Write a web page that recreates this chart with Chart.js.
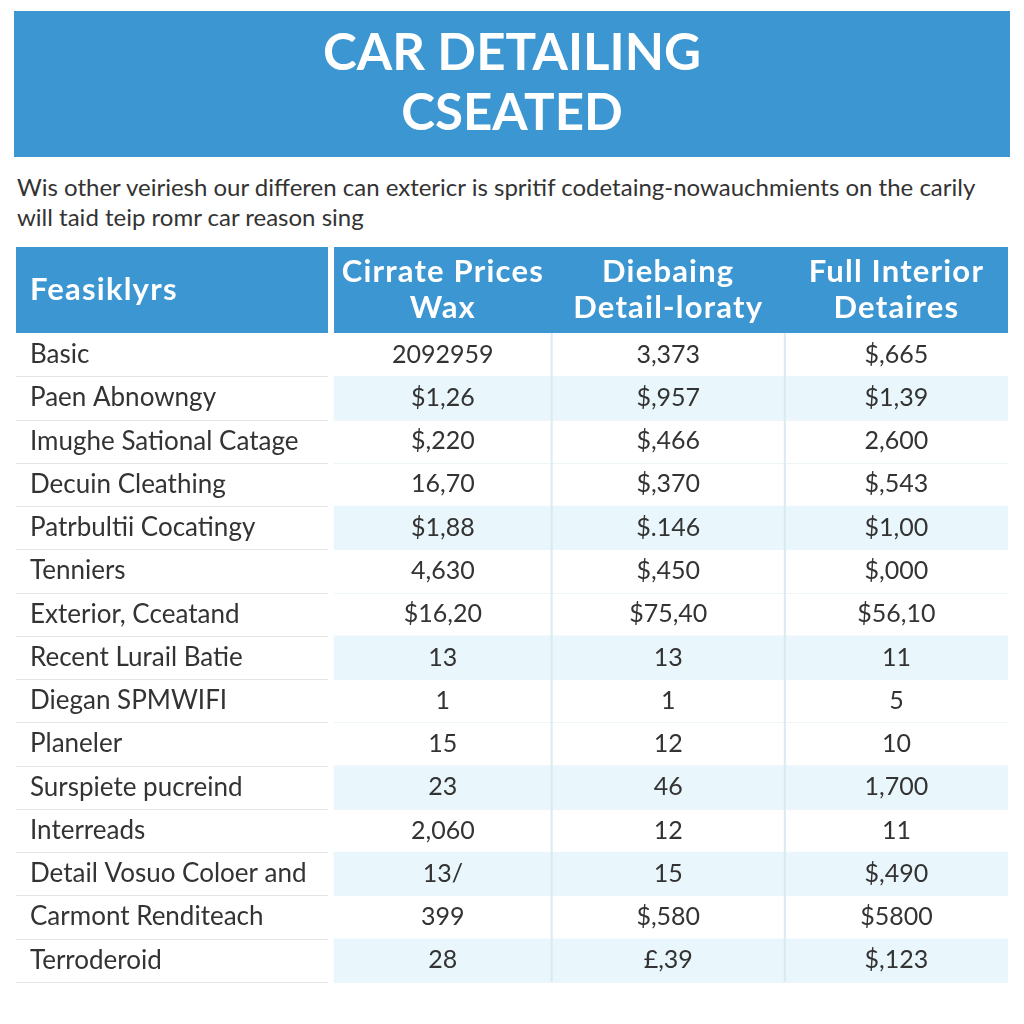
<!DOCTYPE html>
<html lang="en">
<head>
<meta charset="UTF-8">
<title>Car Detailing Cseated</title>
<script src="https://cdn.jsdelivr.net/npm/chart.js@4.4.0/dist/chart.umd.min.js"></script>
<style>
    * { margin: 0; padding: 0; box-sizing: border-box; }
    body {
        width: 1024px;
        height: 1024px;
        background: #fff;
        position: relative;
        overflow: hidden;
        font-family: Lato, "Open Sans", sans-serif;
    }
    .banner {
        position: absolute;
        left: 14px;
        top: 11px;
        width: 996px;
        height: 146px;
        background: #3b96d1;
        color: #fff;
        text-align: center;
        font-weight: bold;
        font-size: 51px;
        line-height: 60px;
        padding-top: 10px;
    }
    .intro {
        position: absolute;
        left: 17px;
        top: 172px;
        width: 1000px;
        font-size: 24px;
        line-height: 30px;
        color: #333;
    }
    #table {
        position: absolute;
        left: 0;
        top: 240px;
    }
</style>
</head>
<body>
    <div class="banner">CAR DETAILING<br>CSEATED</div>
    <div class="intro">Wis other veiriesh our differen can extericr is spritif codetaing-nowauchmients on the carily<br>will taid teip romr car reason sing</div>
    <canvas id="table" width="1024" height="760"></canvas>

<script>
    // table contents
    const features = ['Basic', 'Paen Abnowngy', 'Imughe Sational Catage', 'Decuin Cleathing',
        'Patrbultii Cocatingy', 'Tenniers', 'Exterior, Cceatand', 'Recent Lurail Batie',
        'Diegan SPMWIFI', 'Planeler', 'Surspiete pucreind', 'Interreads',
        'Detail Vosuo Coloer and', 'Carmont Renditeach', 'Terroderoid'];
    const firstHeader = 'Feasiklyrs';
    const columnHeaders = [['Cirrate Prices', 'Wax'], ['Diebaing', 'Detail-loraty'], ['Full Interior', 'Detaires']];
    const cirratePrices = ['2092959', '$1,26', '$,220', '16,70', '$1,88', '4,630', '$16,20', '13', '1', '15', '23', '2,060', '13/', '399', '28'];
    const diebaingDetail = ['3,373', '$,957', '$,466', '$,370', '$.146', '$,450', '$75,40', '13', '1', '12', '46', '12', '15', '$,580', '£,39'];
    const fullInterior = ['$,665', '$1,39', '2,600', '$,543', '$1,00', '$,000', '$56,10', '11', '5', '10', '1,700', '11', '$,490', '$5800', '$,123'];
    const columns = [cirratePrices, diebaingDetail, fullInterior];

    // layout (x in percent of table width)
    const FIRST_END = 31.45;
    const DATA_START = 32.06;
    const COL_EDGES = [DATA_START, 54.0, 77.5, 100];
    const HEADER_H = 86;
    const SHADED_ROWS = [1, 4, 7, 10, 12, 14];
    const BLUE = '#3b96d1';
    const SHADE = '#e9f6fb';
    const TEXT = '#333333';

    const tablePlugin = {
        id: 'tableCells',
        beforeDatasetsDraw(chart) {
            const { ctx, chartArea: a, scales: { x, y } } = chart;
            const rowH = y.getPixelForValue(1) - y.getPixelForValue(0);
            const top = a.top - HEADER_H;
            ctx.save();
            // header cells
            ctx.fillStyle = BLUE;
            ctx.fillRect(x.getPixelForValue(0), top, x.getPixelForValue(FIRST_END) - x.getPixelForValue(0), HEADER_H);
            ctx.fillRect(x.getPixelForValue(DATA_START), top, x.getPixelForValue(100) - x.getPixelForValue(DATA_START), HEADER_H);
            ctx.fillStyle = '#fff';
            ctx.font = 'bold 31px Lato';
            ctx.letterSpacing = '1.2px';
            ctx.textBaseline = 'middle';
            ctx.textAlign = 'left';
            ctx.fillText(firstHeader, x.getPixelForValue(0) + 14, a.top - 43);
            ctx.textAlign = 'center';
            columnHeaders.forEach((lines, c) => {
                const cx = x.getPixelForValue((COL_EDGES[c] + COL_EDGES[c + 1]) / 2);
                ctx.fillText(lines[0], cx, a.top - 61);
                ctx.fillText(lines[1], cx, a.top - 25);
            });
            ctx.letterSpacing = '0px';
            // row separators
            features.forEach((f, i) => {
                const yb = Math.round(y.getPixelForValue(i) + rowH / 2) + 0.5;
                ctx.strokeStyle = '#e4e4e4';
                ctx.lineWidth = 1;
                ctx.beginPath();
                ctx.moveTo(x.getPixelForValue(0), yb);
                ctx.lineTo(x.getPixelForValue(FIRST_END), yb);
                ctx.stroke();
                ctx.strokeStyle = '#eef5f8';
                ctx.beginPath();
                ctx.moveTo(x.getPixelForValue(DATA_START), yb);
                ctx.lineTo(x.getPixelForValue(100), yb);
                ctx.stroke();
            });
            ctx.restore();
        },
        afterDatasetsDraw(chart) {
            const { ctx, chartArea: a, scales: { x, y } } = chart;
            ctx.save();
            // column separators
            ctx.strokeStyle = '#d9eaf1';
            ctx.lineWidth = 2;
            [COL_EDGES[1], COL_EDGES[2]].forEach(e => {
                const px = x.getPixelForValue(e);
                ctx.beginPath();
                ctx.moveTo(px, a.top);
                ctx.lineTo(px, a.bottom);
                ctx.stroke();
            });
            // values
            ctx.fillStyle = TEXT;
            ctx.font = '25px Lato';
            ctx.textAlign = 'center';
            ctx.textBaseline = 'middle';
            columns.forEach((vals, c) => {
                const cx = x.getPixelForValue((COL_EDGES[c] + COL_EDGES[c + 1]) / 2);
                vals.forEach((v, i) => ctx.fillText(v, cx, y.getPixelForValue(i)));
            });
            ctx.restore();
        }
    };

    new Chart(document.getElementById('table'), {
        type: 'bar',
        data: {
            labels: features,
            datasets: [{
                label: 'shade',
                data: features.map((f, i) => SHADED_ROWS.includes(i) ? [DATA_START, 100] : null),
                backgroundColor: SHADE,
                borderWidth: 0,
                barPercentage: 1,
                categoryPercentage: 1
            }]
        },
        options: {
            indexAxis: 'y',
            responsive: false,
            animation: false,
            devicePixelRatio: 1,
            layout: { padding: { top: 93, bottom: 18, left: 16, right: 16 } },
            plugins: {
                legend: { display: false },
                tooltip: { enabled: false }
            },
            scales: {
                x: { display: false, min: 0, max: 100 },
                y: {
                    position: 'left',
                    afterFit: s => { s.width = 0; s.paddingTop = 0; s.paddingBottom = 0; },
                    grid: { display: false, drawTicks: false },
                    border: { display: false },
                    ticks: {
                        mirror: true,
                        padding: 14,
                        autoSkip: false,
                        color: TEXT,
                        font: { family: 'Lato', size: 26 }
                    }
                }
            }
        },
        plugins: [tablePlugin]
    });
</script>
</body>
</html>
